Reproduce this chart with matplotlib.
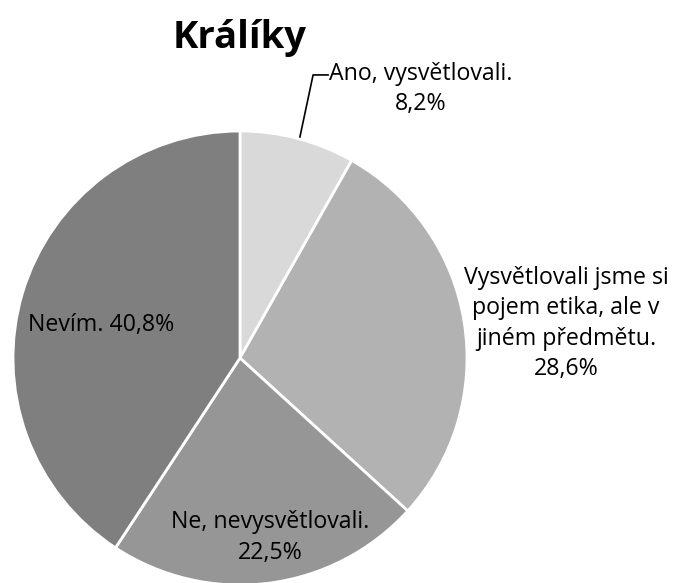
import matplotlib
matplotlib.use('Agg')
import matplotlib.pyplot as plt

# data
labels = ['Ano, vysvětlovali.', 'Vysvětlovali jsme si\npojem etika, ale v\njiném předmětu.',
          'Ne, nevysvětlovali.', 'Nevím.']
values = [8.2, 28.6, 22.5, 40.8]
colors = ['#d9d9d9', '#b2b2b2', '#969696', '#7f7f7f']

plt.rcParams['font.family'] = ['Open Sans', 'DejaVu Sans']

W, H = 679, 583
fig = plt.figure(figsize=(W / 100, H / 100), dpi=100)

# pie centre and radius in pixels
cx, cy, r = 240, 358, 227
ax = fig.add_axes([(cx - r) / W, (H - cy - r) / H, 2 * r / W, 2 * r / H])

ax.pie(values, colors=colors, startangle=90, counterclock=False, radius=1,
       wedgeprops=dict(edgecolor='white', linewidth=2))
ax.set_xlim(-1, 1)
ax.set_ylim(-1, 1)
ax.set_aspect('equal')
ax.axis('off')

pct = [f'{v:.1f}%'.replace('.', ',') for v in values]
fs = 16.7
ls = 1.36
ax.text(0.797, 1.185, labels[0] + '\n' + pct[0], ha='center', va='center', fontsize=fs,
        linespacing=ls, clip_on=False)
ax.plot([0.264, 0.322, 0.388], [0.974, 1.247, 1.247], color='black', lw=1.2, clip_on=False)
ax.text(1.436, 0.152, labels[1] + '\n' + pct[1], ha='center', va='center', fontsize=fs,
        linespacing=ls, clip_on=False)
ax.text(0.132, -0.79, labels[2] + '\n' + pct[2], ha='center', va='center', fontsize=fs,
        linespacing=ls, clip_on=False)
ax.text(-0.61, 0.145, labels[3] + ' ' + pct[3], ha='center', va='center', fontsize=fs,
        clip_on=False)

fig.text(cx / W, 1 - 38 / H, 'Králíky', ha='center', va='center', fontsize=27.5,
         fontweight='bold')

fig.savefig('out.png', dpi=100)
